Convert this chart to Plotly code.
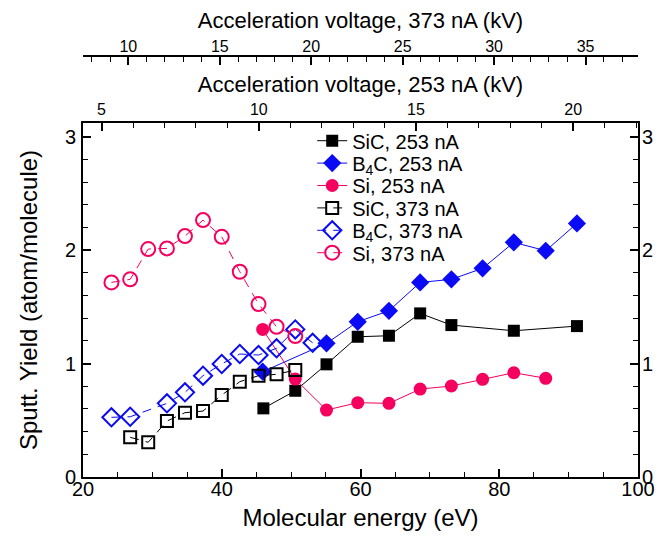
import plotly.graph_objects as go

# ---- data (molecular energy in eV, sputtering yield in atom/molecule) ----
e_253_sic = [46.0, 50.6, 55.1, 59.6, 64.1, 68.6, 73.1, 82.1, 91.2]
y_253_sic = [0.605, 0.760, 0.993, 1.236, 1.245, 1.442, 1.339, 1.289, 1.330]

e_253_b4c = [45.9, 55.1, 59.6, 64.1, 68.6, 73.1, 77.6, 82.1, 86.7, 91.2]
y_253_b4c = [0.928, 1.178, 1.368, 1.465, 1.715, 1.742, 1.839, 2.068, 1.994, 2.235]

e_253_si = [45.9, 50.6, 55.1, 59.6, 64.1, 68.6, 73.1, 77.6, 82.1, 86.7]
y_253_si = [1.301, 0.863, 0.590, 0.655, 0.649, 0.775, 0.802, 0.861, 0.919, 0.870]

e_373_sic = [26.8, 29.4, 32.1, 34.7, 37.3, 40.0, 42.6, 45.3, 47.9, 50.6]
y_373_sic = [0.350, 0.306, 0.493, 0.567, 0.581, 0.722, 0.840, 0.893, 0.905, 0.943]

e_373_b4c = [24.1, 26.8, 32.1, 34.7, 37.3, 40.0, 42.6, 45.3, 47.9, 50.6, 53.1]
y_373_b4c = [0.526, 0.531, 0.649, 0.746, 0.893, 0.996, 1.084, 1.075, 1.134, 1.301, 1.183]

e_373_si = [24.1, 26.8, 29.4, 32.1, 34.7, 37.3, 40.0, 42.6, 45.3, 47.9, 50.6]
y_373_si = [1.715, 1.742, 2.009, 2.015, 2.123, 2.264, 2.117, 1.809, 1.524, 1.324, 1.242]

names = ["SiC, 253 nA", "B<sub>4</sub>C, 253 nA", "Si, 253 nA",
         "SiC, 373 nA", "B<sub>4</sub>C, 373 nA", "Si, 373 nA"]

# axis ranges
x_range = [20, 100]
kv253_range = [4.41, 22.06]
kv373_range = [7.52, 37.87]
y_range = [0, 3.12]

BLACK = "#000000"
BLUE = "#0a0af5"
PINK = "#f5005f"
FONT = "Liberation Sans, Arial, sans-serif"

fig = go.Figure()

legend_ids = ["legend", "legend2", "legend3", "legend4", "legend5", "legend6"]


def add(i, x, y, color, symbol, size, dash, open_=False):
    fig.add_trace(go.Scatter(
        x=x, y=y, name=names[i], mode="lines+markers", legend=legend_ids[i],
        line=dict(color=color, width=1, dash=dash),
        marker=dict(symbol=symbol, size=size, color=color,
                    line=dict(color=color, width=2 if open_ else 0)),
    ))


add(0, e_253_sic, y_253_sic, BLACK, "square", 12, "solid")
add(1, e_253_b4c, y_253_b4c, BLUE, "diamond", 14, "solid")
add(2, e_253_si, y_253_si, PINK, "circle", 13, "solid")
add(3, e_373_sic, y_373_sic, BLACK, "square-open", 12, "9px,7px", True)
add(4, e_373_b4c, y_373_b4c, BLUE, "diamond-open", 14, "9px,7px", True)
add(5, e_373_si, y_373_si, PINK, "circle-open", 14, "9px,7px", True)

# invisible traces to activate the extra axes
fig.add_trace(go.Scatter(x=[None], y=[None], yaxis="y2", showlegend=False, hoverinfo="skip"))
fig.add_trace(go.Scatter(x=[None], y=[None], xaxis="x2", showlegend=False, hoverinfo="skip"))
fig.add_trace(go.Scatter(x=[None], y=[None], xaxis="x3", showlegend=False, hoverinfo="skip"))

ydom = [0, 354 / 421]

common = dict(showgrid=False, zeroline=False, showline=True, linecolor="black",
              linewidth=2, ticks="inside", ticklen=8, tickwidth=2, tickcolor="black",
              automargin=False)

# legend rows (one legend per entry so the row spacing can follow the reference)
row_y = [0.7988, 0.7456, 0.6924, 0.6392, 0.5860, 0.5328]
legends = {}
for lid, ry in zip(legend_ids, row_y):
    legends[lid] = dict(x=0.413, y=ry, xanchor="left", yanchor="middle",
                        font=dict(size=20, family=FONT), bgcolor="rgba(0,0,0,0)",
                        borderwidth=0)

# the page body adds an 8 px offset, so the figure is 8 px smaller than the window
fig.update_layout(
    width=662, height=529,
    margin=dict(l=75, r=32, t=48, b=60),
    paper_bgcolor="white", plot_bgcolor="white",
    font=dict(family=FONT, color="black"),
    showlegend=True,
    **legends,
    xaxis=dict(range=x_range, domain=[0, 1], anchor="y", dtick=20, tick0=0,
               title=dict(text="Molecular energy (eV)", font=dict(size=24), standoff=10),
               tickfont=dict(size=20), ticklabelstandoff=-7,
               minor=dict(ticks="inside", ticklen=5, tickwidth=1, dtick=5, tick0=0, tickcolor="black"),
               **common),
    yaxis=dict(range=y_range, domain=ydom, anchor="x", dtick=1, tick0=0,
               title=dict(text="Sputt. Yield (atom/molecule)", font=dict(size=24), standoff=20),
               tickfont=dict(size=20), ticklabelstandoff=1,
               minor=dict(ticks="inside", ticklen=5, tickwidth=1, dtick=0.2, tick0=0, tickcolor="black"),
               **common),
    yaxis2=dict(range=y_range, domain=ydom, anchor="x", overlaying="y", side="right",
                dtick=1, tick0=0, tickfont=dict(size=20), ticklabelstandoff=-2,
                minor=dict(ticks="inside", ticklen=5, tickwidth=1, dtick=0.2, tick0=0, tickcolor="black"),
                **common),
    xaxis2=dict(range=kv253_range, anchor="y", overlaying="x", side="top", dtick=5, tick0=0,
                title=dict(text="Acceleration voltage, 253 nA (kV)", font=dict(size=22), standoff=2),
                tickfont=dict(size=16), ticklabelstandoff=0,
                minor=dict(ticks="inside", ticklen=5, tickwidth=1, dtick=1, tick0=0, tickcolor="black"),
                **common),
    xaxis3=dict(range=kv373_range, anchor="free", position=1, overlaying="x", side="top",
                dtick=5, tick0=0,
                title=dict(text="Acceleration voltage, 373 nA (kV)", font=dict(size=22), standoff=2),
                tickfont=dict(size=16), ticklabelstandoff=-3,
                minor=dict(ticks="inside", ticklen=5, tickwidth=1, dtick=1, tick0=0, tickcolor="black"),
                **common),
)

fig.write_html("out.html")
